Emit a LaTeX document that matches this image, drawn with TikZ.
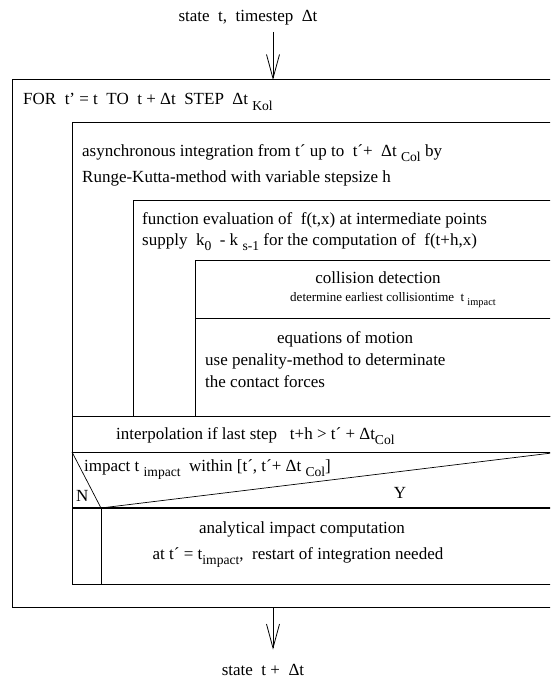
\documentclass[tikz,border=0pt]{standalone}
\usepackage{fontspec}
\setmainfont{Liberation Serif}
\usepackage{tikz}
\usetikzlibrary{arrows.meta,positioning,calc}
\newcommand{\lowsub}[1]{\raisebox{-0.35em}{\scalebox{0.8}{#1}}}
\tikzset{
  nsframe/.style={draw, line width=1pt},
  nsrule/.style={draw, line width=0.7pt},
  nstext/.style={font=\fontsize{17}{20}\selectfont, inner sep=0pt, anchor=base west},
  nsctext/.style={nstext, anchor=base},
  nssmall/.style={font=\fontsize{13}{15}\selectfont, inner sep=0pt, anchor=base},
  flow/.style={-{Straight Barb[length=24pt,width=13pt]}, line width=0.8pt}
}

\begin{document}
\begin{tikzpicture}[x=1pt,y=-1pt]
\useasboundingbox (0,0) rectangle (550,682);
\clip (0,0) rectangle (550,682);

\coordinate (inTop) at (273,80);
\coordinate (outBot) at (273,607);

\draw[nsframe] (12,80) rectangle (560,607);
\draw[nsrule] (72,122) rectangle (560,584);
\draw[nsrule] (133,200) rectangle (560,416);
\draw[nsrule] (195,260) rectangle (560,416);
\draw[nsrule] (195,318) -- (560,318);
\draw[nsrule] (72,416) -- (560,416);
\draw[nsrule] (72,452) -- (560,452);
\draw[nsrule, line width=1.2pt] (72,508) -- (560,508);
\draw[nsrule] (72,452) -- (101,508) -- (560,452);
\draw[nsrule] (101,508) -- (101,584);

\node[nsctext] (stateIn) at (248,22) {state\ \ t,\ \ timestep\ \ Δt};
\node[nstext] (forLoop) at (23,105) {FOR\ \ t’ = t\ \ TO\ \ t + Δt\ \ STEP\ \ Δt \lowsub{Kol}};
\node[nstext] (integA) at (82,156) {asynchronous integration from t´ up to\ \ t´+\ \ Δt \lowsub{Col} by};
\node[nstext] (integB) at (82,182) {Runge-Kutta-method with variable stepsize h};
\node[nstext] (fevalA) at (142,224) {function evaluation of\ \ f(t,x) at intermediate points};
\node[nstext] (fevalB) at (142,245) {supply\ \ k\lowsub{0}\ \ - k \lowsub{s-1} for the computation of\ \ f(t+h,x)};
\node[nsctext] (collA) at (378,283) {collision detection};
\node[nssmall] (collB) at (393,301) {determine earliest collisiontime\ \ t \lowsub{impact}};
\node[nsctext] (motionA) at (345,343) {equations of motion};
\node[nstext] (motionB) at (205,365) {use penality-method to determinate};
\node[nstext] (motionC) at (205,387) {the contact forces};
\node[nstext] (interp) at (116,439) {interpolation if last step\ \ \ t+h > t´ + Δt\lowsub{Col}};
\node[nstext] (cond) at (84,471) {impact t \lowsub{impact}\ \ within [t´, t´+\ Δt \lowsub{Col}]};
\node[nstext] (no) at (76,501) {N};
\node[nsctext] (yes) at (400,498) {Y};
\node[nsctext] (impactA) at (302,533) {analytical impact computation};
\node[nsctext] (impactB) at (298,559) {at t´ = t\lowsub{impact},\ \ restart of integration needed};
\node[nsctext] (stateOut) at (263,675) {state\ \ t +\ \ Δt};

\draw[flow, shorten <=6pt] (stateIn.south -| inTop) -- (inTop);
\draw[flow, shorten >=14pt] (outBot) -- (stateOut.north -| outBot);
\end{tikzpicture}
\end{document}
